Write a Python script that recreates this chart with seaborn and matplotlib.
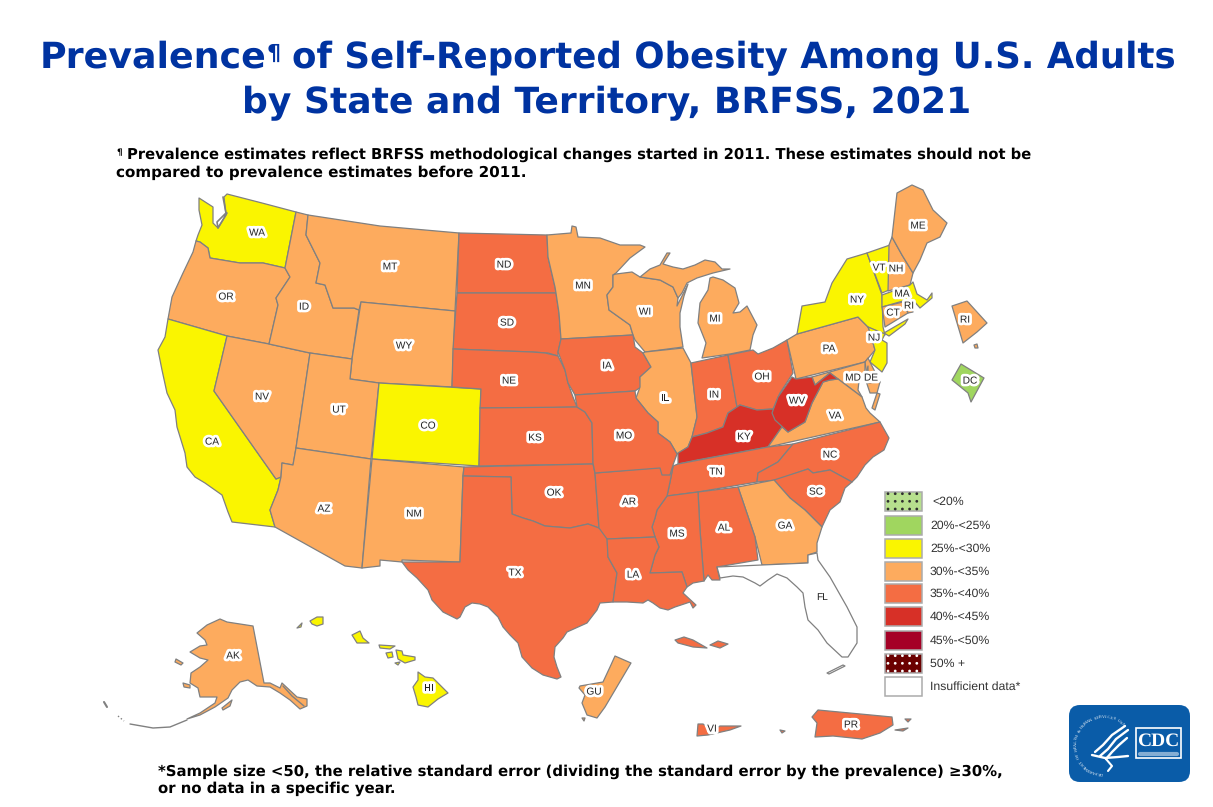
"""
Prevalence of self-reported obesity by state, BRFSS 2021
"""

import numpy as np
import pandas as pd
import matplotlib.pyplot as plt
import matplotlib.patheffects as pe
from matplotlib.patches import FancyBboxPatch, Rectangle
import seaborn as sns

# Legend classes
BIN_LABELS = ['<20%', '20%-<25%', '25%-<30%', '30%-<35%', '35%-<40%',
              '40%-<45%', '45%-<50%', '50% +', 'Insufficient data*']
BIN_COLORS = ['#B7E08E', '#A0D65F', '#FAF500', '#FDAB5E', '#F46D43',
              '#D73027', '#A50026', '#6B0000', '#FFFFFF']

# Class index for each state or territory
STATE_BINS = {
    'DC': 1,
    'WA': 2, 'CA': 2, 'CO': 2, 'NY': 2, 'VT': 2, 'MA': 2, 'NJ': 2, 'HI': 2,
    'OR': 3, 'ID': 3, 'MT': 3, 'WY': 3, 'NV': 3, 'UT': 3, 'AZ': 3, 'NM': 3,
    'MN': 3, 'WI': 3, 'MI': 3, 'IL': 3, 'PA': 3, 'VA': 3, 'MD': 3, 'DE': 3,
    'ME': 3, 'NH': 3, 'CT': 3, 'RI': 3, 'GA': 3, 'AK': 3, 'GU': 3,
    'ND': 4, 'SD': 4, 'NE': 4, 'KS': 4, 'OK': 4, 'TX': 4, 'IA': 4, 'MO': 4,
    'AR': 4, 'LA': 4, 'MS': 4, 'AL': 4, 'TN': 4, 'IN': 4, 'OH': 4, 'NC': 4,
    'SC': 4, 'PR': 4, 'VI': 4,
    'KY': 5, 'WV': 5,
    'FL': 8,
}

# Outlines, in pixel coordinates
OUTLINES = {
    'WA': [[(227, 194), (262, 203), (296, 212), (285, 268), (263, 263), (240, 263), (222, 260), (210, 258),
            (208, 248), (200, 242), (196, 241), (198, 235), (202, 225), (199, 210), (199, 198), (213, 207),
            (213, 223), (218, 228), (226, 215), (224, 197)]],
    'OR': [[(196, 241), (200, 242), (208, 248), (210, 258), (222, 260), (240, 263), (263, 263),
            (285, 268), (290, 277), (276, 298), (278, 305), (269, 344), (227, 336), (168, 319),
            (172, 297), (183, 273), (193, 252)]],
    'CA': [[(168, 319), (227, 336), (214, 391), (276, 479), (281, 477), (278, 490), (270, 510),
            (275, 527), (232, 522), (228, 512), (222, 495), (205, 483), (195, 477), (187, 467),
            (185, 453), (177, 427), (175, 410), (167, 393), (162, 370), (158, 350), (165, 337)]],
    'NV': [[(227, 336), (269, 344), (310, 353), (296, 448), (293, 465), (282, 463), (281, 477),
            (276, 479), (214, 391)]],
    'ID': [[(296, 212), (308, 215), (306, 235), (320, 263), (316, 283), (325, 285), (333, 308),
            (354, 308), (359, 310), (352, 359), (310, 353), (269, 344), (278, 305), (276, 298),
            (290, 277), (285, 268)]],
    'MT': [[(308, 215), (380, 226), (459, 233), (455, 311), (361, 302), (359, 310), (354, 308),
            (333, 308), (325, 285), (316, 283), (320, 263), (306, 235)]],
    'WY': [[(361, 302), (455, 311), (452, 387), (379, 383), (350, 379), (352, 359)]],
    'UT': [[(310, 353), (352, 359), (350, 379), (379, 383), (371, 459), (296, 448)]],
    'CO': [[(379, 383), (481, 389), (479, 466), (372, 459)]],
    'AZ': [[(296, 448), (371, 459), (362, 568), (345, 566), (275, 527), (270, 510), (278, 490),
            (281, 477), (282, 463), (293, 465)]],
    'NM': [[(372, 459), (464, 467), (463, 476), (460, 562), (402, 560), (402, 562), (380, 560),
            (380, 566), (362, 568)]],
    'ND': [[(459, 233), (547, 235), (548, 257), (555, 287), (556, 293), (457, 293)]],
    'SD': [[(457, 293), (556, 293), (559, 313), (561, 339), (558, 352), (558, 356), (548, 353), (532, 352),
            (453, 349)]],
    'NE': [[(453, 349), (532, 352), (545, 353), (558, 356), (565, 370), (568, 383), (573, 397), (577, 407),
            (540, 408), (480, 408), (481, 389), (452, 387)]],
    'KS': [[(480, 408), (577, 407), (585, 412), (592, 423), (593, 464), (479, 466)]],
    'OK': [[(464, 467), (593, 464), (595, 473), (599, 528), (588, 524), (570, 528), (557, 527),
            (545, 526), (533, 521), (523, 518), (512, 514), (511, 477), (463, 476)]],
    'TX': [[(463, 476), (511, 477), (512, 514), (523, 518), (533, 521), (545, 526), (557, 527),
            (570, 528), (588, 524), (599, 528), (607, 530), (608, 557), (617, 573), (613, 602),
            (600, 603), (597, 610), (587, 623), (567, 632), (563, 638), (555, 647), (554, 657),
            (557, 667), (561, 677), (557, 679), (543, 675), (532, 668), (522, 657), (518, 643),
            (510, 635), (503, 627), (498, 617), (488, 607), (480, 604), (472, 603), (465, 607),
            (460, 617), (457, 619), (443, 612), (432, 600), (428, 590), (417, 578), (408, 570),
            (402, 562), (460, 562)]],
    'MN': [[(547, 235), (571, 233), (572, 226), (576, 227), (578, 237), (600, 238), (620, 245),
            (640, 245), (645, 247), (630, 258), (616, 273), (613, 275), (613, 287), (607, 295),
            (609, 310), (630, 325), (633, 335), (561, 339), (559, 313), (556, 293), (555, 287),
            (548, 257)]],
    'WI': [[(616, 274), (632, 272), (640, 277), (660, 280), (673, 287), (678, 298), (677, 306), (688, 284),
            (684, 296), (680, 313), (680, 327), (683, 347), (645, 352), (635, 340), (633, 335), (630, 325),
            (609, 310), (607, 295), (613, 287), (613, 275)]],
    'MI': [[(640, 277), (650, 269), (660, 265), (667, 253), (670, 253), (663, 264), (673, 267), (683, 269),
            (695, 265), (705, 260), (715, 262), (722, 269), (730, 269), (713, 273), (697, 278), (687, 283),
            (682, 293), (678, 298), (673, 287), (660, 280)],
           [(713, 277), (723, 280), (735, 288), (739, 303), (733, 313), (740, 312), (747, 306), (757, 325),
            (753, 335), (750, 350), (730, 354), (702, 358), (706, 343), (698, 323), (700, 303),
            (708, 290), (710, 278)]],
    'IA': [[(561, 339), (633, 335), (635, 347), (643, 353), (651, 367), (640, 377), (641, 387),
            (635, 391), (575, 395), (568, 383), (565, 370), (558, 352)]],
    'IL': [[(645, 352), (683, 348), (691, 363), (697, 417), (692, 437), (688, 447), (677, 454),
            (670, 442), (658, 433), (658, 422), (648, 413), (636, 398), (640, 387), (640, 377),
            (651, 367), (643, 353)]],
    'IN': [[(691, 363), (728, 355), (737, 407), (728, 413), (723, 427), (707, 433), (692, 437),
            (697, 417)]],
    'OH': [[(728, 355), (753, 350), (758, 354), (773, 348), (787, 340), (793, 373), (780, 393),
            (773, 409), (757, 410), (740, 405), (737, 407)]],
    'KY': [[(737, 407), (740, 405), (757, 410), (773, 409), (782, 427), (768, 447), (697, 460),
            (678, 464), (678, 453), (688, 447), (692, 437), (707, 433), (723, 427), (728, 413)]],
    'PA': [[(787, 340), (797, 334), (858, 317), (868, 327), (870, 332), (875, 350), (865, 362),
            (796, 379)]],
    'NY': [[(797, 334), (802, 306), (825, 302), (832, 283), (847, 259), (867, 253), (882, 295),
            (883, 327), (885, 335), (868, 327), (858, 317)],
           [(884, 333), (908, 319), (905, 324), (889, 336)]],
    'VT': [[(867, 253), (890, 245), (889, 290), (882, 293)]],
    'NH': [[(892, 237), (902, 255), (913, 273), (910, 285), (888, 291), (889, 245)]],
    'ME': [[(892, 237), (897, 193), (912, 185), (923, 190), (933, 210), (947, 223), (940, 237),
            (927, 243), (920, 260), (913, 273), (902, 255)]],
    'MA': [[(882, 295), (910, 285), (913, 282), (917, 294), (927, 300), (932, 293), (932, 298),
            (920, 308), (913, 300), (910, 299), (882, 307)]],
    'CT': [[(882, 307), (903, 302), (908, 313), (885, 327)]],
    'RI': [[(903, 302), (910, 300), (913, 312), (908, 313)],
           [(952, 306), (967, 301), (987, 323), (977, 332), (963, 343)],
           [(974, 345), (977, 344), (978, 348), (975, 348)]],
    'NJ': [[(868, 327), (885, 334), (882, 340), (887, 343), (887, 363), (882, 372), (870, 362),
            (875, 350), (870, 332)]],
    'DE': [[(865, 362), (868, 358), (880, 382), (868, 383)]],
    'MD': [[(812, 377), (865, 362), (865, 372), (859, 381), (858, 390), (862, 397), (850, 388),
            (838, 379), (830, 373), (815, 385)],
           [(868, 366), (868, 383), (880, 382), (877, 393), (870, 393), (865, 378)]],
    'VA': [[(838, 379), (850, 388), (862, 397), (866, 408), (870, 413), (880, 422), (768, 447),
            (782, 427), (788, 432), (805, 422), (812, 403), (823, 382), (830, 380)],
           [(877, 393), (880, 394), (875, 410), (872, 408)]],
    'WV': [[(772, 413), (778, 397), (792, 377), (796, 379), (812, 377), (815, 385), (830, 373),
            (838, 379), (830, 380), (823, 382), (812, 403), (805, 422), (788, 432), (775, 420)]],
    'TN': [[(673, 466), (678, 464), (768, 447), (793, 444), (778, 462), (758, 473), (757, 482),
            (698, 492), (667, 496), (670, 482)]],
    'NC': [[(793, 444), (880, 422), (889, 438), (884, 450), (873, 457), (865, 465), (857, 477), (852, 482),
            (830, 470), (813, 473), (808, 469), (777, 480), (757, 482), (758, 473), (778, 462)]],
    'SC': [[(774, 480), (808, 469), (813, 473), (830, 470), (852, 482), (845, 488), (840, 502), (830, 510),
            (822, 527), (805, 510), (790, 498)]],
    'GA': [[(738, 487), (774, 480), (790, 498), (805, 510), (822, 527), (817, 543), (817, 552), (808, 555),
            (808, 563), (762, 565), (755, 537)]],
    'AL': [[(698, 492), (738, 487), (755, 537), (758, 560), (717, 567), (720, 580), (712, 580),
            (708, 575), (704, 581), (700, 530)]],
    'MS': [[(667, 496), (698, 492), (700, 530), (704, 581), (693, 583), (687, 587), (682, 572), (650, 573),
            (655, 555), (659, 547), (655, 537), (652, 527), (655, 518), (657, 510)]],
    'AR': [[(595, 473), (663, 467), (673, 467), (670, 482), (667, 496), (657, 510), (655, 518), (652, 527),
            (655, 537), (607, 539), (599, 528)]],
    'LA': [[(607, 539), (655, 537), (659, 547), (655, 555), (650, 573), (682, 572), (687, 587), (685, 590),
            (683, 593), (696, 605), (693, 608), (690, 602), (675, 607), (668, 610), (660, 608), (653, 603),
            (648, 600), (643, 603), (627, 602), (613, 602), (617, 573), (608, 557)]],
    'MO': [[(575, 395), (635, 391), (636, 398), (648, 413), (658, 422), (658, 433), (670, 442),
            (677, 454), (673, 465), (670, 475), (662, 475), (660, 468), (595, 473), (593, 463),
            (592, 423), (585, 412), (577, 407)]],
    'FL': [[(717, 567), (762, 565), (808, 563), (808, 555), (817, 553), (818, 560), (830, 577), (847, 607),
            (857, 627), (857, 643), (848, 657), (842, 657), (827, 643), (818, 630), (808, 620), (805, 607),
            (803, 593), (797, 587), (787, 578), (777, 574), (768, 580), (760, 586), (755, 583), (743, 577),
            (733, 576), (720, 578)],
           [(827, 673), (843, 665), (845, 666), (829, 674)]],
    'AK': [[(220, 619), (227, 622), (253, 626), (264, 683), (270, 683), (280, 688), (282, 683), (297, 697),
            (307, 699), (307, 706), (300, 709), (290, 700), (280, 693), (270, 687), (257, 686),
            (248, 680), (240, 682), (232, 690), (228, 698), (215, 707), (200, 715), (187, 719),
            (200, 713), (215, 703), (217, 697), (200, 697), (198, 688), (190, 683), (191, 673),
            (200, 667), (208, 660), (200, 658), (190, 652), (200, 646), (207, 645), (205, 640),
            (197, 633), (207, 625)],
           [(176, 659), (183, 663), (181, 665), (175, 662)],
           [(183, 683), (190, 685), (190, 688), (184, 687)],
           [(222, 708), (232, 700), (230, 706), (223, 710)]],
    'HI': [[(418, 672), (425, 677), (433, 678), (440, 685), (448, 693), (438, 699), (428, 707), (418, 705),
            (416, 697), (413, 687), (418, 680)],
           [(396, 650), (402, 651), (403, 655), (415, 657), (415, 660), (405, 663), (398, 659)],
           [(352, 635), (360, 631), (363, 638), (369, 643), (357, 643)],
           [(379, 645), (395, 646), (390, 649), (380, 648)],
           [(386, 653), (392, 652), (393, 657), (388, 658)],
           [(310, 621), (317, 617), (323, 617), (323, 624), (317, 626), (312, 624)],
           [(297, 628), (302, 623), (301, 627)],
           [(395, 663), (400, 662), (398, 665)]],
    'GU': [[(615, 656), (631, 663), (605, 707), (597, 718), (587, 715), (582, 703), (585, 695),
            (579, 688), (580, 686), (603, 682), (610, 667)],
           [(582, 718), (585, 718), (584, 721)]],
    'PR': [[(812, 717), (818, 710), (892, 717), (893, 725), (880, 733), (862, 739), (833, 736), (815, 737),
            (817, 723)],
           [(895, 730), (908, 728), (903, 731)],
           [(905, 719), (911, 719), (908, 722)],
           [(780, 730), (785, 731), (782, 733)]],
    'VI': [[(697, 736), (698, 724), (703, 724), (712, 730), (720, 726), (741, 726), (730, 730),
            (708, 735)],
           [(675, 640), (684, 637), (693, 640), (707, 648), (693, 647), (678, 643)],
           [(710, 645), (718, 641), (728, 644), (720, 648)]],
    'DC': [[(961, 364), (984, 378), (971, 402), (968, 393), (952, 380)]],
}

# Where the state codes sit, in pixel coordinates
LABEL_CODES = ['WA', 'OR', 'CA', 'NV', 'ID', 'MT', 'WY', 'UT', 'AZ', 'CO', 'NM', 'ND', 'SD', 'NE',
               'KS', 'OK', 'TX', 'MN', 'IA', 'MO', 'AR', 'LA', 'WI', 'IL', 'IN', 'MI', 'OH', 'KY',
               'TN', 'MS', 'AL', 'GA', 'SC', 'NC', 'FL', 'VA', 'WV', 'PA', 'NY', 'VT', 'NH', 'ME',
               'MA', 'RI', 'CT', 'NJ', 'MD', 'DE', 'DC', 'RI', 'AK', 'HI', 'GU', 'VI', 'PR']
LABEL_X = [257, 226, 212, 262, 304, 390, 404, 339, 324, 428, 414, 504, 507, 509,
           535, 554, 515, 583, 607, 624, 629, 633, 645, 665, 714, 715, 762, 744,
           716, 677, 724, 785, 816, 830, 822, 835, 797, 829, 857, 879, 896, 918,
           902, 909, 893, 874, 853, 871, 970, 965, 233, 429, 594, 712, 851]
LABEL_Y = [232, 296, 441, 396, 306, 266, 345, 409, 508, 425, 513, 264, 322, 380,
           437, 492, 572, 285, 365, 435, 501, 574, 311, 397, 394, 318, 376, 436,
           471, 533, 527, 525, 491, 454, 596, 415, 400, 348, 299, 267, 268, 225,
           293, 305, 312, 337, 377, 377, 380, 319, 655, 687.6, 691, 728, 724]

TITLE_COLOR = '#0033A1'
EDGE_COLOR = '#808080'

sns.set_theme(style='white')
plt.rcParams['text.hinting'] = 'no_hinting'
palette = sns.color_palette(BIN_COLORS)

fig = plt.figure(figsize=(12.13, 8.07), dpi=100)
ax = fig.add_axes([0, 0, 1, 1])
ax.set_xlim(0, 1213)
ax.set_ylim(807, 0)
ax.axis('off')

# Title and notes
title_kw = dict(family='DejaVu Sans', fontweight='bold', color=TITLE_COLOR)
ax.text(40, 58, 'Prevalence', ha='left', va='center', fontsize=26.2, **title_kw)
ax.text(267, 54, '¶', ha='left', va='center', fontsize=16, **title_kw)
ax.text(1176, 58, 'of Self-Reported Obesity Among U.S. Adults', ha='right', va='center',
        fontsize=25.66, **title_kw)
ax.text(607, 103, 'by State and Territory, BRFSS, 2021', ha='center', va='center', fontsize=26, **title_kw)

note_kw = dict(family='DejaVu Sans', fontweight='bold', color='black', va='center')
ax.text(116, 153, '¶', fontsize=6.5, **note_kw)
ax.text(127, 154.5, 'Prevalence estimates reflect BRFSS methodological changes started in 2011. '
        'These estimates should not be', fontsize=10.64, **note_kw)
ax.text(116, 172.5, 'compared to prevalence estimates before 2011.', fontsize=10.9, **note_kw)
ax.text(158, 771.5, '*Sample size <50, the relative standard error (dividing the standard error '
        'by the prevalence) ≥30%,', fontsize=10.75, **note_kw)
ax.text(158, 789, 'or no data in a specific year.', fontsize=10.7, **note_kw)

# States and territories
for code, parts in OUTLINES.items():
    for part in parts:
        xs, ys = zip(*part)
        ax.fill(xs, ys, facecolor=palette[STATE_BINS[code]], edgecolor=EDGE_COLOR,
                linewidth=0.9, joinstyle='round', zorder=2)

# Puget Sound, Aleutians and the southeast Alaska islands are only thin gray lines
ax.plot([223, 226, 217, 218, 227], [197, 213, 222, 228, 213], color=EDGE_COLOR, linewidth=1.2, zorder=3)
ax.plot([130, 153, 170, 187], [724, 728, 727, 720], color=EDGE_COLOR, linewidth=1.0, zorder=2)
ax.plot([118, 124], [716, 721], color=EDGE_COLOR, linewidth=1.0, linestyle=':', zorder=2)
ax.plot([104, 107], [702, 707], color=EDGE_COLOR, linewidth=1.5, zorder=2)
ax.plot([283, 292, 304], [686, 696, 706], color=EDGE_COLOR, linewidth=1.0, zorder=3)

for code, x, y in zip(LABEL_CODES, LABEL_X, LABEL_Y):
    # Florida is the only label without a white halo
    effects = [] if code == 'FL' else [pe.withStroke(linewidth=4, foreground='white')]
    ax.text(x, y + 1, code, ha='center', va='center', family='Liberation Sans', fontsize=7.3,
            color='#222222', zorder=5, path_effects=effects)

# Legend
row_tops = [492, 516, 539, 562, 584, 607, 631, 654, 677]
for label, color, top in zip(BIN_LABELS, palette, row_tops):
    ax.add_patch(Rectangle((885, top), 37, 18.5, facecolor=color, edgecolor='#ABABAB',
                           linewidth=1.1, zorder=2))
    ax.text(932 if label == '<20%' else 930, top + 10, label, family='Liberation Sans', fontsize=8.8,
            color='#333333', va='center')

# Dot fill for the two outer classes
dot_rows = []
for top, dot in [(492, 'black'), (654, 'white')]:
    for dy in (1.7, 9.3, 17):
        for dx in np.arange(3, 37, 7.2):
            dot_rows.append({'x': 885 + dx, 'y': top + dy, 'dot': dot})
dots = pd.DataFrame(dot_rows)
sns.scatterplot(data=dots, x='x', y='y', hue='dot', palette={'black': '#303030', 'white': 'white'},
                s=4, linewidth=0, legend=False, ax=ax, zorder=3)
ax.set_xlim(0, 1213)
ax.set_ylim(807, 0)

# CDC logo
BLUE = '#0A5CA8'
ax.add_patch(FancyBboxPatch((1069, 705), 121, 77, boxstyle='round,pad=0,rounding_size=11',
                            facecolor=BLUE, edgecolor='none', zorder=2))
ax.add_patch(Rectangle((1136, 728), 45, 30, facecolor=BLUE, edgecolor='white', linewidth=1.2, zorder=3))
ax.text(1158, 741, 'CDC', ha='center', va='center', family='Liberation Serif', fontweight='bold',
        fontsize=14, color='white', zorder=4)
ax.plot([1140, 1177], [754, 754], color='white', linewidth=3, alpha=0.5, zorder=4)
# eagle strokes
for x, y in [([1125, 1112, 1103, 1095], [726, 735, 745, 752]),
             ([1128, 1116, 1108, 1100], [730, 739, 749, 756]),
             ([1127, 1119, 1112, 1106], [738, 745, 752, 759])]:
    ax.plot(x, y, color='white', linewidth=1.7, solid_capstyle='round', zorder=4)
ax.plot([1092, 1105, 1118, 1128], [755, 758, 757, 756], color='white', linewidth=1.7, zorder=4)
ax.plot([1106, 1112, 1108], [759, 766, 771], color='white', linewidth=1.5, zorder=4)
# ring of small text around the eagle
ring = 'DEPARTMENT OF HEALTH & HUMAN SERVICES USA'
for ch, a in zip(ring, np.linspace(95, 312, len(ring))):
    rad = np.deg2rad(a)
    ax.text(1104 + 28 * np.cos(rad), 745 + 28 * np.sin(rad), ch, ha='center', va='center',
            family='Liberation Serif', fontsize=3.2, color='white', rotation=-a - 90,
            rotation_mode='anchor', zorder=4)

fig.savefig('out.png', dpi=100)
